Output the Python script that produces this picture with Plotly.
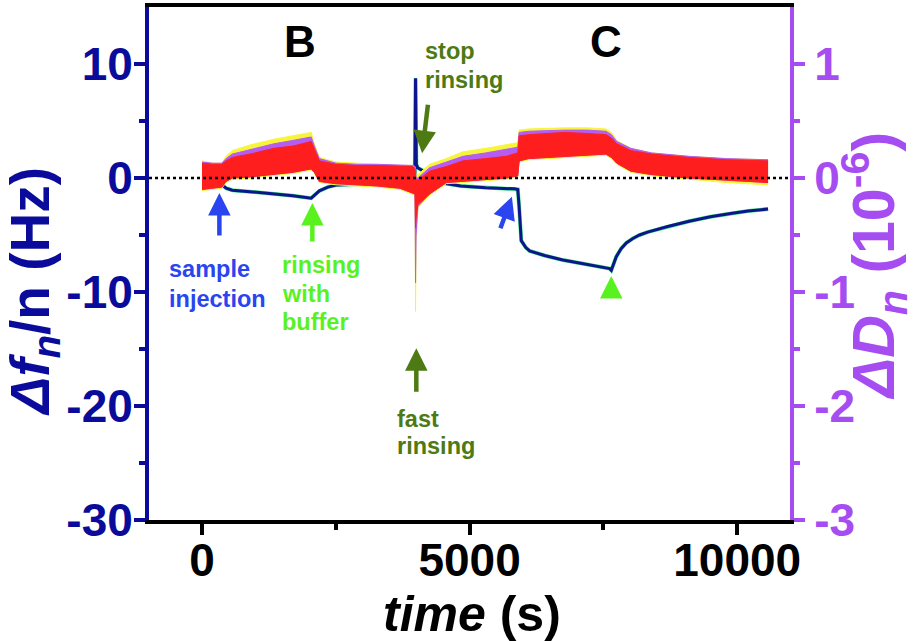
import plotly.graph_objects as go

# ---------------- data ----------------
# frequency shift  Δf_n/n (Hz)  vs time (s)
t_f = [0, 150, 300, 370, 400, 450, 566, 900, 1343, 1700, 2040, 2100, 2193, 2350, 2505,
       2900, 3278, 3700, 3975, 3990, 4005, 4030, 4134, 4288, 4447, 4834, 5300, 5841,
       5900, 5925, 5965, 6050, 6121, 6400, 6743, 7100, 7400, 7615, 7647, 7680, 7740,
       7830, 7927, 8050, 8175, 8325, 8700, 9101, 9500, 9877, 10200, 10576]
f_n = [-0.1, -0.1, -0.15, -0.2, -0.7, -0.9, -1.07, -1.2, -1.37, -1.55, -1.77, -1.5, -1.13, -0.8, -0.61,
       -0.55, -0.5, -0.45, -0.4, 8.74, 1.2, 0.9, 0.61, 0.32, -0.41, -0.7, -0.85, -0.95,
       -1.0, -2.5, -5.5, -6.1, -6.4, -6.8, -7.2, -7.5, -7.75, -7.95, -8.1, -7.6, -6.9,
       -6.2, -5.7, -5.3, -5.0, -4.75, -4.25, -3.8, -3.4, -3.12, -2.9, -2.72]

# dissipation  ΔD_n (1e-6): noisy bands given as upper / lower envelopes
t_D = [0, 200, 370, 450, 566, 900, 1343, 1700, 2040, 2100,
       2193, 2505, 2900, 3278, 3700, 3940, 3980, 3990, 4000, 4034,
       4253, 4565, 4875, 5300, 5685, 5900, 5925, 6100, 6775, 7200,
       7548, 7650, 7750, 8014, 8400, 9101, 9800, 10576]
D_red_hi = [0.13, 0.12, 0.12, 0.15, 0.18, 0.21, 0.26, 0.28, 0.32, 0.25,
            0.15, 0.12, 0.11, 0.11, 0.10, 0.10, 0.08, 0.02, -0.02, -0.02,
            0.06, 0.10, 0.15, 0.17, 0.19, 0.22, 0.37, 0.38, 0.40, 0.39,
            0.38, 0.35, 0.30, 0.24, 0.21, 0.18, 0.16, 0.15]
D_red_lo = [-0.10, -0.09, -0.08, -0.03, 0.0, 0.01, 0.03, 0.05, 0.08, 0.05,
            -0.03, -0.05, -0.06, -0.07, -0.09, -0.13, -0.14, -0.44, -0.35, -0.23,
            -0.14, -0.04, -0.03, -0.01, 0.0, 0.02, 0.15, 0.17, 0.19, 0.20,
            0.21, 0.18, 0.13, 0.06, 0.03, 0.0, -0.02, -0.04]
D_purple_hi = [0.14, 0.13, 0.13, 0.17, 0.21, 0.25, 0.30, 0.33, 0.36, 0.28,
               0.17, 0.13, 0.12, 0.12, 0.11, 0.11, 0.10, 0.05, 0.0, 0.0,
               0.09, 0.14, 0.19, 0.22, 0.25, 0.27, 0.40, 0.41, 0.42, 0.42,
               0.41, 0.38, 0.32, 0.26, 0.22, 0.19, 0.17, 0.16]
D_purple_lo = [-0.10, -0.09, -0.08, -0.03, 0.0, 0.01, 0.03, 0.05, 0.08, 0.05,
               -0.03, -0.05, -0.06, -0.07, -0.09, -0.13, -0.14, -0.92, -0.50, -0.25,
               -0.14, -0.04, -0.03, -0.01, 0.0, 0.02, 0.15, 0.17, 0.19, 0.20,
               0.21, 0.18, 0.13, 0.06, 0.03, 0.0, -0.02, -0.04]
D_yellow_hi = [0.15, 0.13, 0.13, 0.19, 0.24, 0.29, 0.34, 0.37, 0.40, 0.30,
               0.18, 0.14, 0.13, 0.12, 0.11, 0.11, 0.10, 0.06, 0.02, 0.03,
               0.12, 0.17, 0.23, 0.26, 0.29, 0.31, 0.42, 0.43, 0.44, 0.44,
               0.43, 0.40, 0.33, 0.26, 0.22, 0.19, 0.17, 0.16]
D_yellow_lo = [-0.11, -0.10, -0.09, -0.04, -0.01, 0.0, 0.02, 0.04, 0.07, 0.04,
               -0.04, -0.06, -0.07, -0.08, -0.10, -0.14, -0.15, -1.17, -0.55, -0.26,
               -0.15, -0.05, -0.04, -0.02, -0.01, 0.01, 0.14, 0.16, 0.18, 0.19,
               0.20, 0.17, 0.12, 0.05, 0.02, -0.01, -0.04, -0.06]

x_ticks = [0, 5000, 10000]
x_minor = [2500, 7500]
f_ticks = [-30, -20, -10, 0, 10]
f_minor = [-25, -15, -5, 5]
D_ticks = [-3, -2, -1, 0, 1]
D_minor = [-2.5, -1.5, -0.5, 0.5]

# ---------------- styling ----------------
W, H = 919, 641
L, R, T, B = 149.3, 790.5, 7, 520
X_RANGE = [-990, 10986]
F_RANGE = [-30, 15]
D_RANGE = [-3, 1.5]

NAVY = '#0B0B9B'
CURVE = '#0C168A'
FRINGE = '#55F08C'
PURPLE = '#A64DF2'
BLUE_T = '#2A45F0'
GREEN_T = '#5AF21E'
OLIVE = '#4D7A12'
FONT = 'Liberation Sans, Arial, sans-serif'


def px_t(px):
    return X_RANGE[0] + (px - L) / (R - L) * (X_RANGE[1] - X_RANGE[0])


def py_f(py):
    return F_RANGE[1] - (py - T) / (B - T) * (F_RANGE[1] - F_RANGE[0])


def paper_x(px):
    return (px - L) / (R - L)


def paper_y(py):
    return (B - py) / (B - T)


fig = go.Figure()

# frequency curves (overtones) on left axis
fig.add_trace(go.Scatter(x=t_f, y=f_n, mode='lines', line=dict(color=FRINGE, width=4),
                         hoverinfo='skip', showlegend=False))
fig.add_trace(go.Scatter(x=t_f, y=f_n, mode='lines', line=dict(color=CURVE, width=3),
                         showlegend=False))

# dissipation bands on right axis
for lo, hi, col in [(D_yellow_lo, D_yellow_hi, '#F7F53A'),
                    (D_purple_lo, D_purple_hi, '#B55CF2'),
                    (D_red_lo, D_red_hi, '#FF1E1E')]:
    fig.add_trace(go.Scatter(x=t_D, y=lo, yaxis='y2', mode='lines',
                             line=dict(color=col, width=1), showlegend=False))
    fig.add_trace(go.Scatter(x=t_D, y=hi, yaxis='y2', mode='lines', fill='tonexty',
                             fillcolor=col, line=dict(color=col, width=1), showlegend=False))

annotations = []

# texts, one line each: (text, left px, baseline px, colour, size)
lines = [
    ('sample', 170.7, 276.7, BLUE_T, 23.5),
    ('injection', 170.7, 307.3, BLUE_T, 23.5),
    ('rinsing', 283.3, 273.3, GREEN_T, 23.5),
    ('with', 283.3, 301.7, GREEN_T, 23.5),
    ('buffer', 283.3, 330.0, GREEN_T, 23.5),
    ('fast', 398.3, 426.7, OLIVE, 23.5),
    ('rinsing', 398.3, 454.0, OLIVE, 23.5),
    ('stop', 426.0, 59.5, OLIVE, 23.5),
    ('rinsing', 426.0, 88.3, OLIVE, 23.5),
]
for txt, lx, base, col, sz in lines:
    annotations.append(dict(x=px_t(lx - 3), y=py_f(base - 0.3465 * sz), xref='x', yref='y',
                            text=txt, showarrow=False, xanchor='left', yanchor='middle',
                            font=dict(family=FONT, size=sz, color=col, weight='bold')))

for txt, cx in [('B', 300), ('C', 606.5)]:
    annotations.append(dict(x=px_t(cx), y=py_f(57 - 0.3465 * 44), xref='x', yref='y',
                            text=txt, showarrow=False, xanchor='center', yanchor='middle',
                            font=dict(family=FONT, size=44, color='black', weight='bold')))

# arrows: tip px, tail offset px, colour
arrows = [
    (219.7, 193.0, 0, 44, BLUE_T),
    (312.7, 203.0, 0, 40, GREEN_T),
    (422.5, 153.3, 6, -50, OLIVE),
    (416.7, 348.3, 0, 45, OLIVE),
    (512.3, 196.7, -12, 33, BLUE_T),
    (611.7, 276.0, 0, 22, GREEN_T),
]
for tx, ty, axo, ayo, col in arrows:
    annotations.append(dict(x=px_t(tx), y=py_f(ty), xref='x', yref='y', text='',
                            showarrow=True, ax=axo, ay=ayo, arrowhead=2, arrowsize=1.0,
                            arrowwidth=4.5, arrowcolor=col, standoff=0, startstandoff=0))

# axis titles
annotations.append(dict(x=paper_x(472), y=paper_y(631.5 - 0.3465 * 50), xref='paper', yref='paper',
                        text='<i>time</i> (s)', showarrow=False, xanchor='center', yanchor='middle',
                        font=dict(family=FONT, size=50, color='black', weight='bold')))
annotations.append(dict(x=paper_x(34), y=paper_y(291), xref='paper', yref='paper',
                        text='<i>Δf</i><sub><i>n</i></sub>/n (Hz)', showarrow=False,
                        xanchor='center', yanchor='middle', textangle=-90,
                        font=dict(family=FONT, size=55, color=NAVY, weight='bold')))
annotations.append(dict(x=paper_x(874), y=paper_y(265), xref='paper', yref='paper',
                        text='<i>ΔD</i><sub><i>n</i></sub> (10<sup>-6</sup>)', showarrow=False,
                        xanchor='center', yanchor='middle', textangle=-90,
                        font=dict(family=FONT, size=59, color=PURPLE, weight='bold')))

tickfont = dict(family=FONT, size=46, weight='bold')

fig.update_layout(
    width=W, height=H, autosize=False,
    margin=dict(l=L, r=W - R, t=T, b=H - B, pad=0, autoexpand=False),
    paper_bgcolor='white', plot_bgcolor='white',
    showlegend=False,
    xaxis=dict(range=X_RANGE, tickvals=x_ticks, ticktext=[str(v) for v in x_ticks],
               ticks='outside', ticklen=11, tickwidth=4, tickcolor='black',
               showline=True, linecolor='black', linewidth=4, mirror=True,
               showgrid=False, zeroline=False, automargin=False, ticklabelstandoff=-14,
               tickfont=dict(color='black', **tickfont),
               minor=dict(tickvals=x_minor, ticks='outside', ticklen=6, tickwidth=4, tickcolor='black')),
    yaxis=dict(range=F_RANGE, tickvals=f_ticks, ticktext=[str(v) for v in f_ticks],
               ticks='outside', ticklen=11, tickwidth=4, tickcolor=NAVY,
               showline=True, linecolor=NAVY, linewidth=4,
               showgrid=False, zeroline=False, automargin=False, ticklabelstandoff=-8,
               tickfont=dict(color=NAVY, **tickfont),
               minor=dict(tickvals=f_minor, ticks='outside', ticklen=6, tickwidth=4, tickcolor=NAVY)),
    yaxis2=dict(range=D_RANGE, overlaying='y', side='right', tickvals=D_ticks,
                ticktext=[str(v) for v in D_ticks],
                ticks='outside', ticklen=11, tickwidth=4, tickcolor=PURPLE,
                showline=True, linecolor=PURPLE, linewidth=4,
                showgrid=False, zeroline=False, automargin=False,
                tickfont=dict(color=PURPLE, **tickfont),
                minor=dict(tickvals=D_minor, ticks='outside', ticklen=6, tickwidth=4, tickcolor=PURPLE)),
    annotations=annotations,
    shapes=[dict(type='line', xref='paper', x0=0, x1=1, yref='y', y0=0, y1=0,
                 line=dict(color='black', width=2.5, dash='dot'), layer='above')],
)

# the page body has a default 8px margin; remove it so the figure fills the window
fig.write_html('out.html', config={'displayModeBar': False},
               post_script="document.body.style.margin='0';")
